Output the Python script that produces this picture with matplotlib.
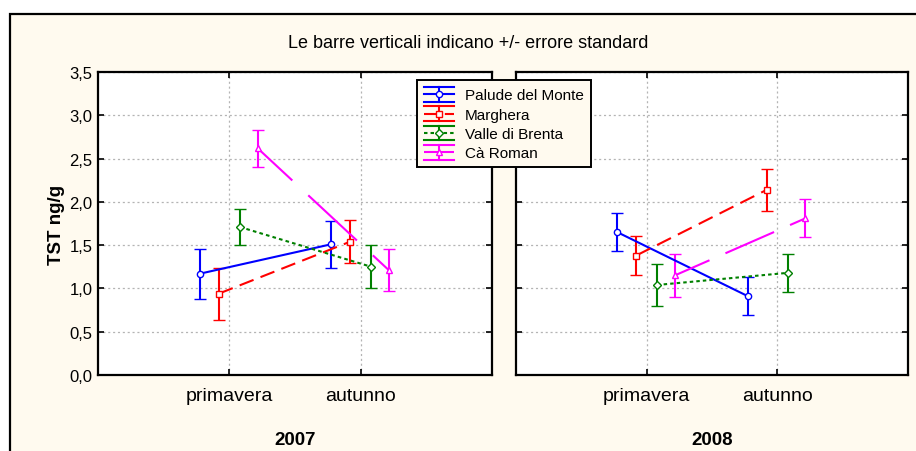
import matplotlib
matplotlib.use("Agg")
import matplotlib.pyplot as plt
from matplotlib.patches import Rectangle
from matplotlib.lines import Line2D
from matplotlib.legend_handler import HandlerBase
from matplotlib.container import ErrorbarContainer
import numpy as np

plt.rcParams['font.family'] = ['Liberation Sans', 'DejaVu Sans']
plt.rcParams['lines.scale_dashes'] = False

# data
seasons = ['primavera', 'autunno']
years = ['2007', '2008']
sites = ['Palude del Monte', 'Marghera', 'Valle di Brenta', 'Cà Roman']

mean_2007 = [[1.17, 1.51], [0.94, 1.54], [1.71, 1.25], [2.62, 1.21]]
err_2007 = [[0.29, 0.27], [0.30, 0.25], [0.21, 0.25], [0.215, 0.245]]
mean_2008 = [[1.65, 0.91], [1.38, 2.14], [1.04, 1.18], [1.15, 1.81]]
err_2008 = [[0.22, 0.22], [0.22, 0.245], [0.245, 0.22], [0.245, 0.22]]

means = [mean_2007, mean_2008]
errs = [err_2007, err_2008]

colors = ['#0000ff', '#ff0000', '#008000', '#ff00ff']
markers = ['o', 's', 'D', '^']
msizes = [4.5, 4.5, 4.5, 5.0]
offsets = [-0.225, -0.08, 0.08, 0.215]
# dash patterns in points (measured along x), None = solid
dash_pat = [None, (0, (10, 5)), (0, (2.5, 2.2)), (10, (35, 11.5))]

bg = '#fffaef'

fig = plt.figure(figsize=(9.16, 4.52), dpi=100)
fig.patch.set_facecolor('white')
frame = Rectangle((10/916, -0.1), 1.1, 0.1 + 1 - 15/452, transform=fig.transFigure,
                  facecolor=bg, edgecolor='black', linewidth=1.6, zorder=-10)
fig.patches.append(frame)

fig.text(468/916, 1 - 43/452, 'Le barre verticali indicano +/- errore standard',
         ha='center', va='center', fontsize=13)

ax_pos = [[98/916, 1 - 376/452, 394/916, 303/452],
          [516/916, 1 - 376/452, 392/916, 303/452]]


class ErrHandler(HandlerBase):
    def create_artists(self, legend, orig_handle, xdescent, ydescent,
                       width, height, fontsize, trans):
        ln = orig_handle.lines[0]
        c = ln.get_color()
        pat = orig_handle.pat
        x0 = -xdescent
        y0 = -ydescent
        xm = x0 + width / 2
        ym = y0 + height / 2
        arts = []
        arts.append(Line2D([x0, x0 + width], [ym, ym], color=c, lw=1.5,
                           linestyle='-' if pat is None else (0, pat[1])))
        arts.append(Line2D([xm, xm], [y0, y0 + height], color=c, lw=1.5))
        arts.append(Line2D([x0, x0 + width], [y0, y0], color=c, lw=1.5))
        arts.append(Line2D([x0, x0 + width], [y0 + height, y0 + height], color=c, lw=1.5))
        arts.append(Line2D([xm], [ym], marker=ln.get_marker(), markersize=ln.get_markersize(),
                           markerfacecolor='white', markeredgecolor=c, lw=0))
        for a in arts:
            a.set_transform(trans)
        return arts


handles = []
for k in range(2):
    ax = fig.add_axes(ax_pos[k])
    ax.set_facecolor('white')
    ax.set_xlim(0, 3)
    ax.set_ylim(0, 3.5)
    ax.set_xticks([1, 2])
    ax.set_yticks(np.arange(0, 3.51, 0.5))
    ax.grid(True, color='#b4b4b4', linestyle=(0, (1.5, 2)), linewidth=0.9)
    ax.set_axisbelow(True)
    for s in ax.spines.values():
        s.set_linewidth(1.6)
    ax.tick_params(direction='in', length=4, width=1.2, top=True, right=True)
    ax.set_xticklabels(seasons, fontsize=14)
    ax.tick_params(axis='x', pad=9)
    if k == 0:
        ax.set_yticklabels([('%.1f' % v).replace('.', ',') for v in np.arange(0, 3.51, 0.5)],
                           fontsize=12)
        ax.tick_params(axis='y', pad=4)
        ax.set_ylabel('TST ng/g', fontsize=13.5, fontweight='bold', labelpad=3)
    else:
        ax.set_yticklabels([])
    ax.set_xlabel(years[k], fontsize=13.5, fontweight='bold', labelpad=19)

    for i in range(4):
        xs = np.array([1, 2]) + offsets[i]
        ys = np.array(means[k][i])
        ls = '-'
        if dash_pat[i] is not None:
            # stretch dashes so they keep their length measured along x
            p0 = ax.transData.transform((xs[0], ys[0]))
            p1 = ax.transData.transform((xs[1], ys[1]))
            f = np.hypot(*(p1 - p0)) / abs(p1[0] - p0[0])
            off, seq = dash_pat[i]
            ls = (off * f, tuple(d * f for d in seq))
        eb = ax.errorbar(xs, ys, yerr=errs[k][i], color=colors[i], linestyle=ls,
                         linewidth=1.5, marker=markers[i], markersize=msizes[i],
                         markerfacecolor='white', markeredgecolor=colors[i],
                         markeredgewidth=1.0, capsize=4.5, capthick=1.5, elinewidth=1.5)
        if k == 0:
            eb.pat = dash_pat[i]
            handles.append(eb)

leg = fig.legend(handles, sites, loc='upper left',
                 bbox_to_anchor=(417/916, 1 - 81/452), bbox_transform=fig.transFigure,
                 fontsize=11, handler_map={ErrorbarContainer: ErrHandler()},
                 handlelength=2.0, handleheight=1.1, labelspacing=0.25,
                 handletextpad=0.7, borderpad=0.45, borderaxespad=0,
                 fancybox=False, framealpha=1)
leg.get_frame().set_facecolor(bg)
leg.get_frame().set_edgecolor('black')
leg.get_frame().set_linewidth(1.4)

fig.savefig('out.png', dpi=100, facecolor=fig.get_facecolor())
